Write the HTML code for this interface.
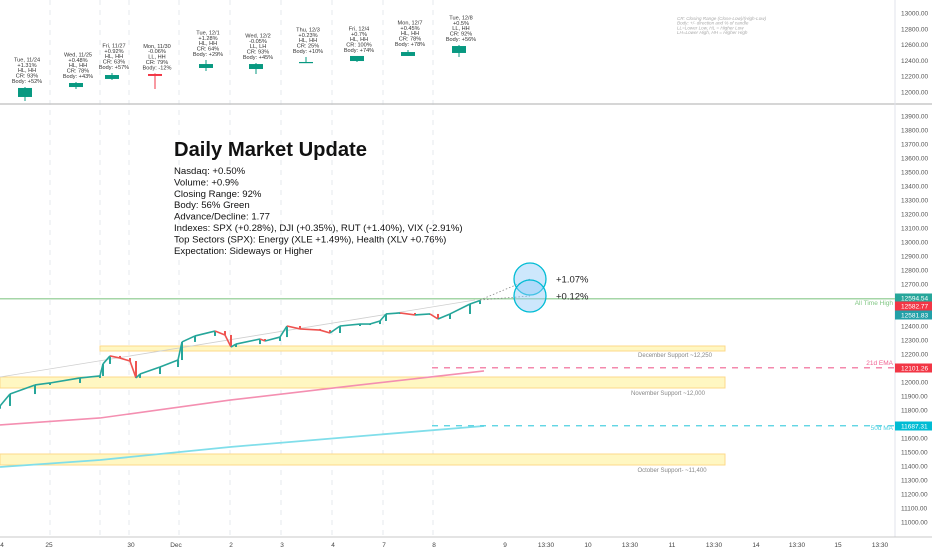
<!DOCTYPE html>
<html><head><meta charset="utf-8"><style>
html,body{margin:0;padding:0;background:#fff;}
svg{display:block;font-family:"Liberation Sans",sans-serif;}
</style></head><body>
<svg id="c" width="932" height="550" viewBox="0 0 932 550"></svg>
<script>
// ---- data ----
const dayLabels=["Tue, 11/24","Wed, 11/25","Fri, 11/27","Mon, 11/30","Tue, 12/1","Wed, 12/2","Thu, 12/3","Fri, 12/4","Mon, 12/7","Tue, 12/8"];
const dayChg=["+1.31%","+0.48%","+0.92%","-0.06%","+1.28%","-0.05%","+0.23%","+0.7%","+0.45%","+0.5%"];
const dayHL=["HL, HH","HL, HH","HL, HH","LL, HH","HL, HH","LL, LH","HL, HH","HL, HH","HL, HH","LL, HH"];
const dayCR=["CR: 93%","CR: 78%","CR: 63%","CR: 79%","CR: 64%","CR: 93%","CR: 25%","CR: 100%","CR: 78%","CR: 92%"];
const dayBody=["Body: +52%","Body: +43%","Body: +57%","Body: -12%","Body: +29%","Body: +45%","Body: +10%","Body: +74%","Body: +78%","Body: +56%"];
const dayX=[25,76,112,155,206,256,306,357,408,459];
const dayOpen=[11937,12063,12165,12228,12304,12291,12367,12392,12456,12494];
const dayHigh=[12063,12127,12241,12235,12405,12367,12443,12456,12532,12595];
const dayLow=[11886,12038,12152,12038,12266,12228,12367,12380,12456,12443];
const dayClose=[12051,12114,12215,12203,12354,12354,12380,12456,12506,12582];
const topTicks=[13000,12800,12600,12400,12200,12000];
const mainTicks=[13900,13800,13700,13600,13500,13400,13300,13200,13100,13000,12900,12800,12700,12600,12500,12400,12300,12200,12100,12000,11900,11800,11700,11600,11500,11400,11300,11200,11100,11000];
const priceX=[0,10,35,50,80,100,103,110,120,130,136,140,160,178,182,195,215,225,231,236,260,265,280,287,300,320,330,340,360,370,380,386,400,415,430,438,450,470,480];
const priceV=[11829,11914,11979,11993,12029,12043,12129,12186,12171,12150,12029,12057,12107,12157,12286,12329,12364,12336,12250,12271,12307,12293,12321,12400,12379,12371,12350,12400,12414,12414,12436,12486,12493,12479,12486,12450,12486,12557,12582];
const emaX=[0,100,230,350,484];
const emaV=[11693,11743,11871,11971,12079];
const maX=[0,100,230,350,484];
const maV=[11393,11443,11536,11607,11686];
const dateLabels=["4","25","30","Dec","2","3","4","7","8","9","13:30","10","13:30","11","13:30","14","13:30","15","13:30"];
const dateX=[2,49,131,176,231,282,333,384,434,505,546,588,630,672,714,756,797,838,880];
// ---- scales ----
const yTop=v=>13+(13000-v)*0.079;
const yMain=v=>116+(13900-v)*0.14;
const svg=document.getElementById('c');
const NS="http://www.w3.org/2000/svg";
function mk(tag,attrs,parent){const e=document.createElementNS(NS,tag);for(const k in attrs)e.setAttribute(k,attrs[k]);(parent||svg).appendChild(e);return e;}
const GREEN="#089981",RED="#f23645";
// grid
[50,100,129,179,230,281,332,383,433].forEach(x=>{
 const l=mk('line',{x1:x,y1:0,x2:x,y2:537,stroke:"#e6e8ee","stroke-dasharray":"5,5"});
 
 
});
// separators
const sep=mk('line',{x1:0,y1:104,x2:932,y2:104,stroke:"#c8c8c8","stroke-width":1.5});


const rax=mk('line',{x1:895,y1:0,x2:895,y2:537,stroke:"#e0e3eb"});


const bax=mk('line',{x1:0,y1:537,x2:932,y2:537,stroke:"#c8c8c8"});


// top ticks
topTicks.forEach(v=>{const t=mk('text',{x:901,y:yTop(v)+2.5,"font-size":6.5,fill:"#555"});t.textContent=v.toFixed(2);
 
 });
mainTicks.forEach(v=>{const t=mk('text',{x:901,y:yMain(v)+2.5,"font-size":6.5,fill:"#555"});t.textContent=v.toFixed(2);
 
 });
dateLabels.forEach((s,i)=>{const t=mk('text',{x:dateX[i],y:547,"font-size":6.5,fill:"#444","text-anchor":"middle"});t.textContent=s;
 
 });
// top-pane legend
["CR: Closing Range (Close-Low)/(High-Low)","Body: +/- direction and % of candle","LL=Lower Low, HL = Higher Low","LH=Lower High, HH = Higher High"].forEach((s,i)=>{
 const t=mk('text',{x:677,y:20+i*4.7,"font-size":4.6,fill:"#aaa","font-style":"italic"});t.textContent=s;
 
 });
// daily candles
dayX.forEach((x,i)=>{
 const up=dayClose[i]>=dayOpen[i];const col=up?GREEN:RED;
 const g=mk('g',{});
 
 
 mk('line',{x1:x,x2:x,y1:yTop(dayHigh[i]),y2:yTop(dayLow[i]),stroke:col,"stroke-width":1},g);
 const t=yTop(Math.max(dayOpen[i],dayClose[i])),b=yTop(Math.min(dayOpen[i],dayClose[i]));
 mk('rect',{x:x-7,y:t,width:14,height:Math.max(1.2,b-t),fill:col},g);
 const top=yTop(dayHigh[i])-4;
 [dayLabels[i],dayChg[i],dayHL[i],dayCR[i],dayBody[i]].forEach((s,j)=>{
  const tx=mk('text',{x:x+2,y:top-(4-j)*5.4,"font-size":5.6,fill:"#333","text-anchor":"middle"},g);tx.textContent=s;
  
  
 });
});
// zones
[[100,346,625,5,"December Support ~12,250",675,357],[0,377,725,11,"November Support ~12,000",668,395],[0,454,725,11,"October Support- ~11,400",672,472]].forEach(z=>{
 const r=mk('rect',{x:z[0],y:z[1],width:z[2],height:z[3],fill:"#fff7c2",stroke:"#fcd98a","stroke-width":1});
 
 
 const t=mk('text',{x:z[5],y:z[6],"font-size":6,fill:"#888","text-anchor":"middle"});t.textContent=z[4];
 
 
});
// trend lines
const tl=mk('line',{x1:0,y1:377,x2:475,y2:300,stroke:"#cfcfcf","stroke-width":0.8});


// ATH
const ath=mk('line',{x1:0,y1:yMain(12594.54),x2:895,y2:yMain(12594.54),stroke:"#a5d6a7","stroke-width":1.5});


let at=mk('text',{x:893,y:305,"font-size":6.5,fill:"#81c784","text-anchor":"end"});at.textContent="All Time High";


// EMA and MA
function pl(xs,vs){return xs.map((x,i)=>x+","+yMain(vs[i])).join(" ");}
const ema=mk('polyline',{points:pl(emaX,emaV),fill:"none",stroke:"#f48fb1","stroke-width":1.6});


const ma=mk('polyline',{points:pl(maX,maV),fill:"none",stroke:"#80deea","stroke-width":1.8});


const emd=mk('line',{x1:432,x2:895,y1:yMain(12101.26),y2:yMain(12101.26),stroke:"#f06292","stroke-dasharray":"6,6","stroke-width":1.2});


const mad=mk('line',{x1:432,x2:895,y1:yMain(11687.31),y2:yMain(11687.31),stroke:"#4dd0e1","stroke-dasharray":"6,6","stroke-width":1.2});


let et=mk('text',{x:893,y:365,"font-size":6.5,fill:"#f06292","text-anchor":"end"});et.textContent="21d EMA";


let mt=mk('text',{x:893,y:430,"font-size":6.5,fill:"#4dd0e1","text-anchor":"end"});mt.textContent="50d MA";


// intraday candles
for(let i=0;i<priceX.length;i++){
 const o=i?priceV[i-1]:priceV[i]-20,c=priceV[i];const col=c>=o?"#26a69a":"#ef5350";
 const g=mk('g',{});
 
 
 const x0=i?priceX[i-1]:priceX[i]-4,x1=priceX[i];
 mk('line',{x1:x0,y1:yMain(o),x2:x1,y2:yMain(c),stroke:col,"stroke-width":1.6},g);
 mk('rect',{x:x1-1,y:Math.min(yMain(o),yMain(c)),width:2,height:Math.max(1,Math.abs(yMain(o)-yMain(c))),fill:col},g);
}
// projection circles
[[530,279,"+1.07%"],[530,296,"+0.12%"]].forEach(p=>{
 const l=mk('line',{x1:480,y1:300,x2:p[0],y2:p[1],stroke:"#888","stroke-dasharray":"1.5,2","stroke-width":0.8});
 
 
 const c=mk('circle',{cx:p[0],cy:p[1],r:16,fill:"rgba(144,202,249,0.45)",stroke:"#00bcd4","stroke-width":1.3});
 
 
 const t=mk('text',{x:556,y:p[1]+3.5,"font-size":9.5,fill:"#222"});t.textContent=p[2];
 
 
});
// price badges
[[12594.54,"#26a69a",298],[12582.77,RED,306],[12581.83,"#22a0a8",315],[12101.26,RED,368],[11687.31,"#00bcd4",426]].forEach(b=>{
 const g=mk('g',{});
 
 
 mk('rect',{x:895,y:b[2]-4.5,width:37,height:9,fill:b[1]},g);
 const t=mk('text',{x:901,y:b[2]+2.5,"font-size":6.5,fill:"#fff"},g);t.textContent=b[0].toFixed(2);
});
// title block
const tt=mk('text',{x:174,y:156,"font-size":20,"font-weight":"bold",fill:"#111",textLength:193,lengthAdjust:"spacingAndGlyphs"});tt.textContent="Daily Market Update";


["Nasdaq: +0.50%","Volume: +0.9%","Closing Range: 92%","Body: 56% Green","Advance/Decline: 1.77","Indexes: SPX (+0.28%), DJI (+0.35%), RUT (+1.40%), VIX (-2.91%)","Top Sectors (SPX): Energy (XLE +1.49%), Health (XLV +0.76%)","Expectation: Sideways or Higher"].forEach((s,i)=>{
 const t=mk('text',{x:174,y:174+i*11.4,"font-size":9.6,fill:"#111"});t.textContent=s;
 
 
});
</script>
</body></html>
